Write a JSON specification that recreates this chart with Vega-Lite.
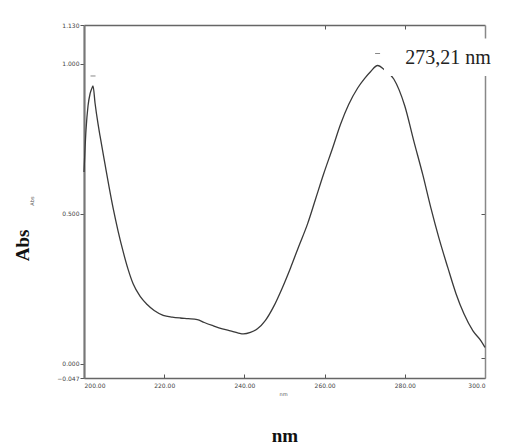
{
  "$schema": "https://vega.github.io/schema/vega-lite/v6.json",
  "width": 401,
  "height": 353,
  "autosize": {"type": "none"},
  "padding": {"left": 84, "top": 25, "right": 31, "bottom": 66},
  "background": "white",
  "config": {"view": {"stroke": null}},
  "datasets": {
    "curve": [
      {"nm": 200.0, "abs": 0.64}, {"nm": 200.5, "abs": 0.78}, {"nm": 201.0, "abs": 0.86},
      {"nm": 201.5, "abs": 0.9}, {"nm": 202.0, "abs": 0.92}, {"nm": 202.25, "abs": 0.927},
      {"nm": 202.75, "abs": 0.87}, {"nm": 203.5, "abs": 0.8}, {"nm": 204.0, "abs": 0.76},
      {"nm": 205.25, "abs": 0.665}, {"nm": 206.25, "abs": 0.59}, {"nm": 207.25, "abs": 0.52},
      {"nm": 208.5, "abs": 0.443}, {"nm": 209.75, "abs": 0.375}, {"nm": 211.0, "abs": 0.315},
      {"nm": 212.25, "abs": 0.267}, {"nm": 214.0, "abs": 0.225}, {"nm": 215.75, "abs": 0.198},
      {"nm": 217.5, "abs": 0.178}, {"nm": 219.75, "abs": 0.162}, {"nm": 222.0, "abs": 0.156},
      {"nm": 224.0, "abs": 0.153}, {"nm": 226.0, "abs": 0.151}, {"nm": 228.25, "abs": 0.148},
      {"nm": 230.0, "abs": 0.138}, {"nm": 232.25, "abs": 0.127}, {"nm": 234.5, "abs": 0.117},
      {"nm": 236.5, "abs": 0.11}, {"nm": 238.5, "abs": 0.103}, {"nm": 239.75, "abs": 0.1},
      {"nm": 241.5, "abs": 0.105}, {"nm": 243.25, "abs": 0.117}, {"nm": 245.25, "abs": 0.145},
      {"nm": 247.25, "abs": 0.19}, {"nm": 249.5, "abs": 0.255}, {"nm": 251.5, "abs": 0.32},
      {"nm": 253.5, "abs": 0.39}, {"nm": 255.75, "abs": 0.467}, {"nm": 257.75, "abs": 0.55},
      {"nm": 259.75, "abs": 0.633}, {"nm": 262.0, "abs": 0.72}, {"nm": 264.0, "abs": 0.8},
      {"nm": 266.0, "abs": 0.865}, {"nm": 268.25, "abs": 0.92}, {"nm": 270.0, "abs": 0.952},
      {"nm": 271.5, "abs": 0.975}, {"nm": 273.21, "abs": 0.995}, {"nm": 275.0, "abs": 0.98},
      {"nm": 277.25, "abs": 0.95}, {"nm": 280.0, "abs": 0.86}, {"nm": 282.25, "abs": 0.743},
      {"nm": 284.5, "abs": 0.63}, {"nm": 286.5, "abs": 0.52}, {"nm": 288.5, "abs": 0.42},
      {"nm": 290.75, "abs": 0.32}, {"nm": 292.75, "abs": 0.235}, {"nm": 294.75, "abs": 0.167},
      {"nm": 297.0, "abs": 0.11}, {"nm": 299.0, "abs": 0.077}, {"nm": 300.0, "abs": 0.055}
    ],
    "peaks": [
      {"nm": 202.25, "abs": 0.96},
      {"nm": 273.21, "abs": 1.035}
    ],
    "box": [
      {"x1": 274.8, "x2": 302.5, "y1": 0.96, "y2": 1.085}
    ],
    "label": [
      {"nm": 290.75, "abs": 1.02, "text": "273,21 nm"}
    ],
    "smallY": [
      {"nm": 187.0, "abs": 0.543, "text": "Abs"}
    ],
    "smallX": [
      {"nm": 249.75, "abs": -0.1, "text": "nm"}
    ]
  },
  "resolve": {"axis": {"x": "independent", "y": "independent"}},
  "layer": [
    {
      "data": {"name": "curve"},
      "mark": {"type": "line", "color": "#3a3a3a", "strokeWidth": 1.3, "interpolate": "monotone"},
      "encoding": {
        "x": {
          "field": "nm", "type": "quantitative",
          "scale": {"domain": [200, 300], "nice": false, "zero": false},
          "axis": {
            "orient": "bottom", "values": [200, 220, 240, 260, 280, 300],
            "labelExpr": "datum.value == 300 ? '300.0' : format(datum.value, '.2f')",
            "grid": false, "tickSize": -4, "tickColor": "#555", "domainColor": "#666", "domainWidth": 1.5,
            "labelFontSize": 6, "labelColor": "#444", "labelPadding": 8, "labelFont": "DejaVu Sans",
            "title": "nm", "titleFont": "Liberation Serif", "titleFontWeight": "bold", "titleFontSize": 19,
            "titleColor": "#111", "titleY": 57, "titleBaseline": "middle"
          }
        },
        "y": {
          "field": "abs", "type": "quantitative",
          "scale": {"domain": [-0.047, 1.13], "nice": false, "zero": false},
          "axis": {
            "orient": "left", "values": [-0.047, 0, 0.5, 1, 1.13],
            "format": ".3f", "grid": false, "tickSize": 4, "tickColor": "#555",
            "domainColor": "#777", "domainWidth": 2.2,
            "labelFontSize": 6, "labelColor": "#444", "labelPadding": 1, "labelFont": "DejaVu Sans",
            "title": "Abs", "titleFont": "Liberation Serif", "titleFontWeight": "bold", "titleFontSize": 19,
            "titleColor": "#111", "titleX": -62, "titleY": 220, "titleAlign": "center", "titleBaseline": "middle", "titleAngle": -90
          }
        }
      }
    },
    {
      "data": {"name": "peaks"},
      "mark": {"type": "tick", "color": "#555", "size": 5, "thickness": 1, "orient": "horizontal"},
      "encoding": {
        "x": {
          "field": "nm", "type": "quantitative",
          "scale": {"domain": [200, 300], "nice": false, "zero": false},
          "axis": {
            "orient": "top", "values": [260, 280], "labels": false, "grid": false,
            "tickSize": -4, "tickColor": "#555", "domainColor": "#666", "domainWidth": 1.5, "title": null
          }
        },
        "y": {
          "field": "abs", "type": "quantitative",
          "scale": {"domain": [-0.047, 1.13], "nice": false, "zero": false},
          "axis": {
            "orient": "right", "values": [0.5, 0.02], "labels": false, "grid": false,
            "tickSize": -4, "tickColor": "#555", "domainColor": "#888", "domainWidth": 1.5, "title": null
          }
        }
      }
    },
    {
      "data": {"name": "box"},
      "mark": {"type": "rect", "color": "white"},
      "encoding": {
        "x": {"field": "x1", "type": "quantitative", "scale": {"domain": [200, 300], "nice": false, "zero": false}, "axis": null},
        "x2": {"field": "x2"},
        "y": {"field": "y1", "type": "quantitative", "scale": {"domain": [-0.047, 1.13], "nice": false, "zero": false}, "axis": null},
        "y2": {"field": "y2"}
      }
    },
    {
      "data": {"name": "label"},
      "mark": {"type": "text", "font": "Liberation Serif", "fontSize": 20, "color": "#222", "align": "center", "baseline": "middle"},
      "encoding": {
        "x": {"field": "nm", "type": "quantitative", "scale": {"domain": [200, 300], "nice": false, "zero": false}, "axis": null},
        "y": {"field": "abs", "type": "quantitative", "scale": {"domain": [-0.047, 1.13], "nice": false, "zero": false}, "axis": null},
        "text": {"field": "text"}
      }
    },
    {
      "data": {"name": "smallY"},
      "mark": {"type": "text", "font": "DejaVu Sans", "fontSize": 5, "color": "#555", "angle": 270, "align": "center", "baseline": "middle"},
      "encoding": {
        "x": {"field": "nm", "type": "quantitative", "scale": {"domain": [200, 300], "nice": false, "zero": false}, "axis": null},
        "y": {"field": "abs", "type": "quantitative", "scale": {"domain": [-0.047, 1.13], "nice": false, "zero": false}, "axis": null},
        "text": {"field": "text"}
      }
    },
    {
      "data": {"name": "smallX"},
      "mark": {"type": "text", "font": "DejaVu Sans", "fontSize": 5, "color": "#555", "align": "center", "baseline": "middle"},
      "encoding": {
        "x": {"field": "nm", "type": "quantitative", "scale": {"domain": [200, 300], "nice": false, "zero": false}, "axis": null},
        "y": {"field": "abs", "type": "quantitative", "scale": {"domain": [-0.047, 1.13], "nice": false, "zero": false}, "axis": null},
        "text": {"field": "text"}
      }
    }
  ]
}
